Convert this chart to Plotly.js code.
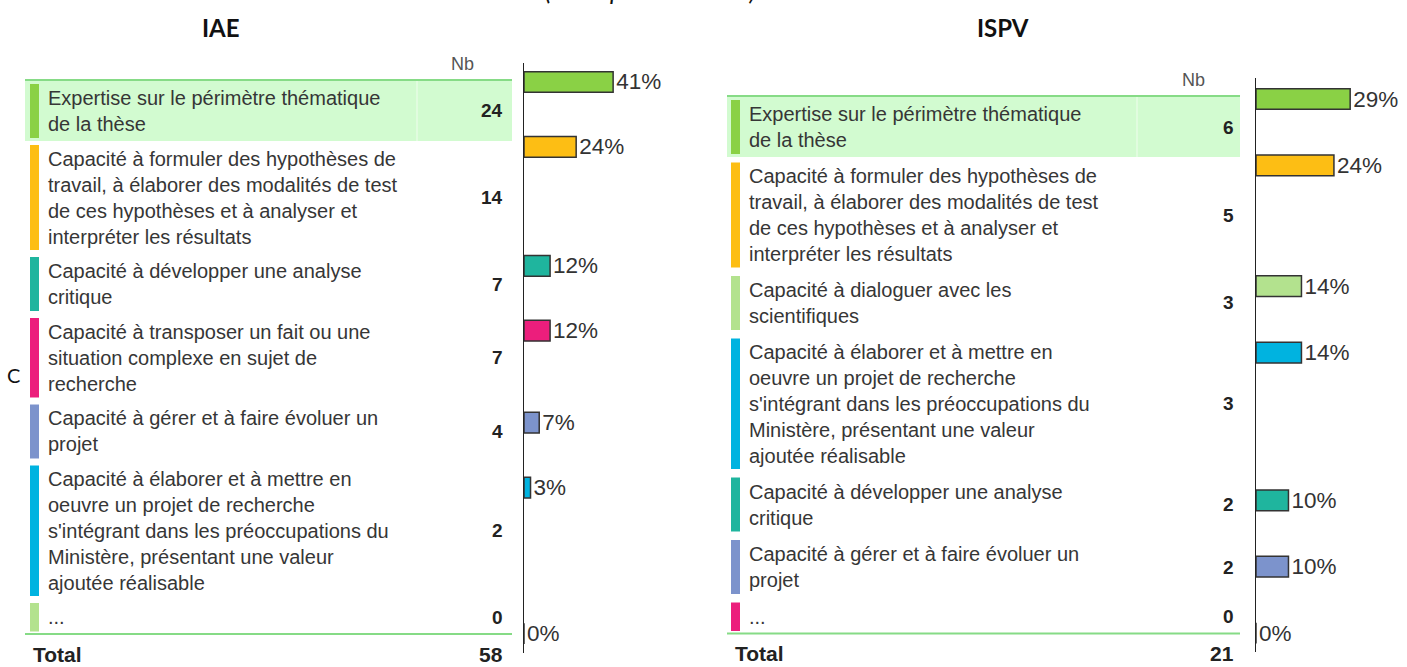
<!DOCTYPE html>
<html><head><meta charset="utf-8">
<script src="https://cdn.plot.ly/plotly-3.0.1.min.js"></script>
<style>html,body{margin:0;padding:0;background:#fff;overflow:hidden}#chart{width:1407px;height:667px;}</style>
</head><body><div id="chart"></div>
<script>
// ---------- DATA ----------
const pageTitle = "(votre premier choix)";
const panelTitles = ["IAE", "ISPV"];
const countHeader = "Nb";
const totalLabel = "Total";

const iaeLabels = [
  "Expertise sur le périmètre thématique<br>de la thèse",
  "Capacité à formuler des hypothèses de<br>travail, à élaborer des modalités de test<br>de ces hypothèses et à analyser et<br>interpréter les résultats",
  "Capacité à développer une analyse<br>critique",
  "Capacité à transposer un fait ou une<br>situation complexe en sujet de<br>recherche",
  "Capacité à gérer et à faire évoluer un<br>projet",
  "Capacité à élaborer et à mettre en<br>oeuvre un projet de recherche<br>s'intégrant dans les préoccupations du<br>Ministère, présentant une valeur<br>ajoutée réalisable",
  "..."
];
const iaeCounts = [24, 14, 7, 7, 4, 2, 0];
const iaePct = [41, 24, 12, 12, 7, 3, 0];
const iaeColors = ["#8AD145", "#FDBE14", "#1FB59E", "#EC1E7C", "#7C93CC", "#00B3E0", "#B3E28E"];

const ispvLabels = [
  "Expertise sur le périmètre thématique<br>de la thèse",
  "Capacité à formuler des hypothèses de<br>travail, à élaborer des modalités de test<br>de ces hypothèses et à analyser et<br>interpréter les résultats",
  "Capacité à dialoguer avec les<br>scientifiques",
  "Capacité à élaborer et à mettre en<br>oeuvre un projet de recherche<br>s'intégrant dans les préoccupations du<br>Ministère, présentant une valeur<br>ajoutée réalisable",
  "Capacité à développer une analyse<br>critique",
  "Capacité à gérer et à faire évoluer un<br>projet",
  "..."
];
const ispvCounts = [6, 5, 3, 3, 2, 2, 0];
const ispvPct = [29, 24, 14, 14, 10, 10, 0];
const ispvColors = ["#8AD145", "#FDBE14", "#B3E28E", "#00B3E0", "#1FB59E", "#7C93CC", "#EC1E7C"];

// ---------- LAYOUT HELPERS ----------
const W = 1407, H = 667;
const px = v => v / W;
const py = v => 1 - v / H;
const LINE = 25.5;
const TXT = "#363636";
const SANS = "Liberation Sans, Arial, sans-serif";
const HUM = "Lato, Open Sans, sans-serif";

function rowLayout(labels, top0, gap) {
  const tops = [], hs = [];
  let t = top0;
  labels.forEach(l => {
    const n = l.split("<br>").length;
    const h = LINE * n + 3;
    tops.push(t); hs.push(h);
    t += h + gap;
  });
  return {tops, hs};
}

const panels = [
  {labels: iaeLabels, counts: iaeCounts, pct: iaePct, colors: iaeColors,
   top0: 84, gap: 7, left: 25, right: 512, barX: 30, textX: 46, numX: 505, sepX: 417,
   titleX: 221, xa: "x", ya: "y"},
  {labels: ispvLabels, counts: ispvCounts, pct: ispvPct, colors: ispvColors,
   top0: 100, gap: 8.5, left: 727, right: 1240, barX: 731, textX: 747, numX: 1236, sepX: 1137,
   titleX: 1003, xa: "x2", ya: "y2"}
];

const shapes = [], annotations = [], traces = [];

annotations.push({xref: "paper", yref: "paper", x: px(650), y: py(-10), xanchor: "center", yanchor: "middle",
  text: "<i>" + pageTitle + "</i>", showarrow: false, font: {family: HUM, size: 25, color: "#111"}});
annotations.push({xref: "paper", yref: "paper", x: px(13), y: py(375), xanchor: "center", yanchor: "middle",
  text: "C", showarrow: false, font: {family: HUM, size: 20, color: "#111"}});

panels.forEach((p, k) => {
  const {tops, hs} = rowLayout(p.labels, p.top0, p.gap);
  const hlTop = p.top0 - 3, hlBot = p.top0 + hs[0] + 3;
  shapes.push({type: "rect", xref: "paper", yref: "paper", x0: px(p.left), x1: px(p.right),
    y0: py(hlTop), y1: py(hlBot), fillcolor: "#D2FBD0", line: {width: 0}, layer: "below"});
  shapes.push({type: "line", xref: "paper", yref: "paper", x0: px(p.sepX), x1: px(p.sepX),
    y0: py(hlTop), y1: py(hlBot), line: {color: "#E6FDE5", width: 1.5}, layer: "below"});
  shapes.push({type: "line", xref: "paper", yref: "paper", x0: px(p.left), x1: px(p.right),
    y0: py(hlTop - 1), y1: py(hlTop - 1), line: {color: "#86DB86", width: 2}});
  const last = tops.length - 1;
  const botY = tops[last] + hs[last] + 2.5;
  shapes.push({type: "line", xref: "paper", yref: "paper", x0: px(p.left), x1: px(p.right),
    y0: py(botY), y1: py(botY), line: {color: "#86DB86", width: 2}});

  p.labels.forEach((lab, i) => {
    const mid = tops[i] + hs[i] / 2;
    shapes.push({type: "rect", xref: "paper", yref: "paper", x0: px(p.barX), x1: px(p.barX + 9),
      y0: py(tops[i]), y1: py(tops[i] + hs[i]), fillcolor: p.colors[i], line: {width: 0}});
    annotations.push({xref: "paper", yref: "paper", x: px(p.textX), y: py(mid), xanchor: "left", yanchor: "middle",
      align: "left", text: lab, showarrow: false, font: {family: SANS, size: 20, color: TXT}});
    annotations.push({xref: "paper", yref: "paper", x: px(p.numX), y: py(mid), xanchor: "right", yanchor: "middle",
      text: "<b>" + p.counts[i] + "</b>", showarrow: false, font: {family: SANS, size: 19, color: "#222"}});
  });
  annotations.push({xref: "paper", yref: "paper", x: px(p.numX - 43), y: py(hlTop - 17), xanchor: "center", yanchor: "middle",
    text: countHeader, showarrow: false, font: {family: SANS, size: 18, color: "#555"}});
  annotations.push({xref: "paper", yref: "paper", x: px(p.left + 6), y: py(botY + 20), xanchor: "left", yanchor: "middle",
    text: "<b>" + totalLabel + "</b>", showarrow: false, font: {family: SANS, size: 21, color: "#222"}});
  const total = p.counts.reduce((a, b) => a + b, 0);
  annotations.push({xref: "paper", yref: "paper", x: px(p.numX), y: py(botY + 20), xanchor: "right", yanchor: "middle",
    text: "<b>" + total + "</b>", showarrow: false, font: {family: SANS, size: 21, color: "#222"}});
  annotations.push({xref: "paper", yref: "paper", x: px(p.titleX), y: py(28), xanchor: "center", yanchor: "middle",
    text: "<b>" + panelTitles[k] + "</b>", showarrow: false, font: {family: HUM, size: 24, color: "#111"}});

  traces.push({
    type: "bar", orientation: "h", x: p.pct, y: tops, xaxis: p.xa, yaxis: p.ya,
    width: 19.5,
    marker: {color: p.colors, line: {color: "#333", width: 1.5}},
    text: p.pct.map(v => v + "%"), textposition: "outside", constraintext: "none", cliponaxis: false,
    textfont: {family: SANS, size: 22.5, color: "#333"}, hoverinfo: "skip"
  });
});

// bar-axis mapping: pixel = 1.063 * value - 7.3
const B = 1.063, A = -7.3;
const inv = p => (p - A) / B;
const axY = (top, bot) => ({domain: [py(bot), py(top)], range: [inv(bot), inv(top)],
  showline: true, linecolor: "#222", linewidth: 1.5, showticklabels: false, ticks: "",
  showgrid: false, zeroline: false, fixedrange: true});
const axX = (d0, d1, r) => ({domain: [px(d0), px(d1)], range: [0, r], visible: false, fixedrange: true});

const layout = {
  width: W, height: H, margin: {l: 0, r: 0, t: 0, b: 0},
  paper_bgcolor: "#fff", plot_bgcolor: "rgba(0,0,0,0)", showlegend: false,
  xaxis: Object.assign(axX(524, 724, 92), {anchor: "y"}),
  yaxis: Object.assign(axY(63, 653), {anchor: "x"}),
  xaxis2: Object.assign(axX(1256, 1407, 46.5), {anchor: "y2"}),
  yaxis2: Object.assign(axY(78, 652), {anchor: "x2"}),
  shapes, annotations, bargap: 0
};

Plotly.newPlot("chart", traces, layout, {displayModeBar: false, staticPlot: true});
</script>
</body></html>
